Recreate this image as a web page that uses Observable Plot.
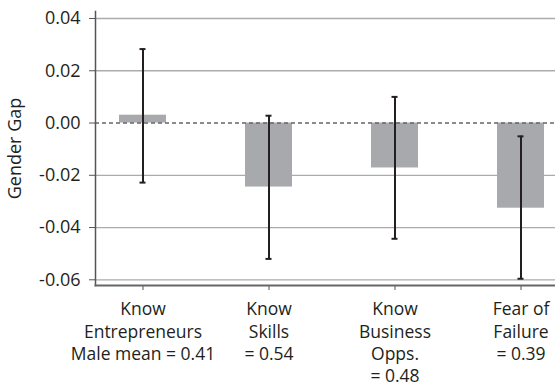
<!DOCTYPE html>
<html>
<head>
<meta charset="utf-8">
<script src="https://cdn.jsdelivr.net/npm/d3@7"></script>
<script src="https://cdn.jsdelivr.net/npm/@observablehq/plot@0.6"></script>
<style>
  html, body { margin: 0; padding: 0; background: #fff; }
  #chart svg { display: block; }
</style>
</head>
<body>
<div id="chart"></div>
<script>
const categories = ["Know Entrepreneurs", "Know Skills", "Know Business Opps.", "Fear of Failure"];
const gap = [0.0030, -0.0245, -0.0172, -0.0326];
const ciLow = [-0.0228, -0.0520, -0.0443, -0.0596];
const ciHigh = [0.0283, 0.0028, 0.0100, -0.0051];
const tickLabels = [
  "Know\nEntrepreneurs\nMale mean = 0.41",
  "Know\nSkills\n= 0.54",
  "Know\nBusiness\nOpps.\n= 0.48",
  "Fear of\nFailure\n= 0.39"
];
const yTicks = [-0.06, -0.04, -0.02, 0, 0.02, 0.04];
const gridTicks = yTicks.filter(d => d !== 0);

const rows = categories.map((c, i) => ({cat: c, gap: gap[i], lo: ciLow[i], hi: ciHigh[i]}));
const labelOf = Object.fromEntries(categories.map((c, i) => [c, tickLabels[i]]));

const chart = Plot.plot({
  width: 555,
  height: 387,
  marginLeft: 95,
  marginRight: 0,
  marginTop: 11,
  marginBottom: 102,
  style: {fontFamily: "'Open Sans', sans-serif", fontSize: "17.5px", color: "#231f20", background: "#fff"},
  x: {domain: categories, type: "band", paddingInner: 0.6285, paddingOuter: 0.1324, align: 0.6925},
  y: {domain: [-0.06218, 0.04268]},
  marks: [
    Plot.ruleY(gridTicks, {stroke: "#ababab", strokeWidth: 1.3}),
    Plot.barY(rows, {x: "cat", y1: 0, y2: "gap", fill: "#a7a9ac"}),
    Plot.ruleY([0], {stroke: "#666", strokeWidth: 1.3, strokeDasharray: "4,3"}),
    Plot.ruleX(rows, {x: "cat", y1: "lo", y2: "hi", stroke: "#231f20", strokeWidth: 2}),
    Plot.tickY(rows, {x: "cat", y: "lo", stroke: "#231f20", strokeWidth: 2, insetLeft: 20.5, insetRight: 20.5}),
    Plot.tickY(rows, {x: "cat", y: "hi", stroke: "#231f20", strokeWidth: 2, insetLeft: 20.5, insetRight: 20.5}),
    Plot.axisY({
      ticks: yTicks,
      tickFormat: d => d.toFixed(2),
      tickSize: 6,
      tickPadding: 9,
      stroke: "#555",
      fill: "#231f20",
      fontSize: 18,
      label: "Gender Gap",
      labelAnchor: "center",
      labelArrow: "none",
      labelOffset: 87
    }),
    Plot.axisX({
      tickFormat: d => labelOf[d],
      tickSize: 5,
      tickPadding: 9,
      stroke: "#555",
      fill: "#231f20",
      fontSize: 17.5,
      lineHeight: 1.27,
      label: null
    }),
    Plot.frame({anchor: "left", stroke: "#555", strokeWidth: 1.5}),
    Plot.frame({anchor: "bottom", stroke: "#666", strokeWidth: 2})
  ]
});
document.getElementById("chart").append(chart);
</script>
</body>
</html>
